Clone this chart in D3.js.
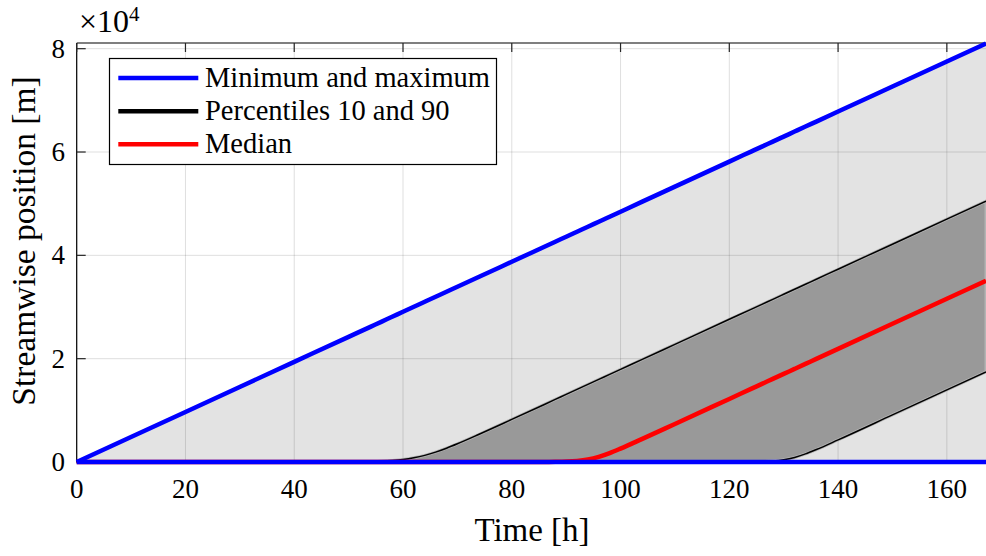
<!DOCTYPE html>
<html>
<head>
<meta charset="utf-8">
<script src="https://cdn.jsdelivr.net/npm/d3@7"></script>
<style>
  html, body { margin: 0; padding: 0; background: #fff; }
  svg { display: block; }
  text { font-family: "Liberation Serif", "Times New Roman", serif; fill: #000; }
</style>
</head>
<body>
<svg id="chart" width="986" height="556"></svg>
<script>
// Time axis (hours) shared by every series
const time = [0, 20, 40, 50, 54, 56, 58, 60, 62, 64, 66, 68, 70, 74, 80, 86, 88, 90, 92, 94, 96, 98, 100, 104, 110, 120, 124, 126, 128, 130, 132, 134, 136, 140, 150, 160, 167.2];

// Streamwise positions [m]
const minPos = time.map(() => 0);
const maxPos = [0, 9690, 19380, 24225, 26160, 27130, 28100, 29070, 30040, 31010, 31980, 32950, 33915, 35850, 38760, 41670, 42640, 43605, 44575, 45545, 46510, 47480, 48450, 50390, 53295, 58140, 60080, 61050, 62015, 62985, 63955, 64925, 65890, 67830, 72675, 77520, 81010];
const p90Pos = [0, 0, 0, 30, 95, 160, 280, 480, 810, 1280, 1910, 2670, 3520, 5365, 8240, 11140, 12110, 13080, 14050, 15020, 15990, 16960, 17930, 19860, 22770, 27620, 29550, 30520, 31490, 32460, 33430, 34400, 35370, 37310, 42150, 47000, 50480];
const medianPos = [0, 0, 0, 0, 0, 0, 0, 0, 0, 0, 0, 0, 0, 0, 2, 12, 32, 84, 214, 497, 1005, 1727, 2590, 4470, 7364, 12209, 14147, 15116, 16085, 17054, 18023, 18992, 19961, 21899, 26744, 31589, 35078];
const p10Pos = [0, 0, 0, 0, 0, 0, 0, 0, 0, 0, 0, 0, 0, 0, 0, 0, 0, 0, 0, 0, 0, 0, 0, 0, 0, 5, 26, 69, 178, 424, 885, 1570, 2410, 4275, 9109, 13953, 17442];

const xTicks = [0, 20, 40, 60, 80, 100, 120, 140, 160];
const yTicks = [0, 20000, 40000, 60000, 80000];
const yTickLabels = ["0", "2", "4", "6", "8"];

const legendItems = [
  { label: "Minimum and maximum", color: "#0000ff" },
  { label: "Percentiles 10 and 90", color: "#000000" },
  { label: "Median", color: "#ff0000" }
];

const svg = d3.select("#chart");
const plotLeft = 76.7, plotRight = 986, plotTop = 43, plotBottom = 462;

const x = d3.scaleLinear().domain([0, 167.2]).range([plotLeft, plotRight]);
const y = d3.scaleLinear().domain([0, 81100]).range([plotBottom, plotTop]);

const rows = time.map((t, i) => ({
  t, min: minPos[i], max: maxPos[i], p10: p10Pos[i], p90: p90Pos[i], med: medianPos[i]
}));

// Grid
const grid = svg.append("g");
grid.selectAll("line.gx").data(xTicks).join("line")
  .attr("x1", d => x(d)).attr("x2", d => x(d))
  .attr("y1", plotTop).attr("y2", plotBottom)
  .attr("stroke", "rgba(38,38,38,0.15)").attr("stroke-width", 1);
grid.selectAll("line.gy").data(yTicks).join("line")
  .attr("y1", d => y(d)).attr("y2", d => y(d))
  .attr("x1", plotLeft).attr("x2", plotRight)
  .attr("stroke", "rgba(38,38,38,0.15)").attr("stroke-width", 1);

const curve = d3.curveMonotoneX;

// Envelope between minimum and maximum
svg.append("path").datum(rows)
  .attr("d", d3.area().x(d => x(d.t)).y0(d => y(d.min)).y1(d => y(d.max)).curve(curve))
  .attr("fill", "rgba(0,0,0,0.11)");

// Band between the 10th and 90th percentiles
svg.append("path").datum(rows)
  .attr("d", d3.area().x(d => x(d.t)).y0(d => y(d.p10)).y1(d => y(d.p90)).curve(curve))
  .attr("fill", "#999999")
  .attr("stroke", "#b4b4b4").attr("stroke-width", 3);

const line = key => d3.line().x(d => x(d.t)).y(d => y(d[key])).curve(curve);

// Axes box (left, top, bottom)
svg.append("line").attr("x1", plotLeft).attr("x2", plotLeft).attr("y1", plotTop).attr("y2", plotBottom)
  .attr("stroke", "#000").attr("stroke-width", 1.2);
svg.append("line").attr("x1", plotLeft).attr("x2", plotRight).attr("y1", plotTop).attr("y2", plotTop)
  .attr("stroke", "#000").attr("stroke-width", 1.2);
svg.append("line").attr("x1", plotLeft).attr("x2", plotRight).attr("y1", plotBottom).attr("y2", plotBottom)
  .attr("stroke", "#000").attr("stroke-width", 1.2);

// Inward ticks
svg.selectAll("line.ty").data(yTicks).join("line")
  .attr("x1", plotLeft).attr("x2", plotLeft + 9)
  .attr("y1", d => y(d)).attr("y2", d => y(d))
  .attr("stroke", "#262626").attr("stroke-width", 1.2);
svg.selectAll("line.tt").data(xTicks).join("line")
  .attr("x1", d => x(d)).attr("x2", d => x(d))
  .attr("y1", plotTop).attr("y2", plotTop + 9)
  .attr("stroke", "#262626").attr("stroke-width", 1.2);

// Series lines
svg.append("path").datum(rows).attr("d", line("p90"))
  .attr("fill", "none").attr("stroke", "#000").attr("stroke-width", 1.5);
svg.append("path").datum(rows).attr("d", line("p10"))
  .attr("fill", "none").attr("stroke", "#000").attr("stroke-width", 1.5);
svg.append("path").datum(rows).attr("d", line("med"))
  .attr("fill", "none").attr("stroke", "#ff0000").attr("stroke-width", 4.5);
svg.append("path").datum(rows).attr("d", line("max"))
  .attr("fill", "none").attr("stroke", "#0000ff").attr("stroke-width", 4.5);
svg.append("path").datum(rows).attr("d", line("min"))
  .attr("fill", "none").attr("stroke", "#0000ff").attr("stroke-width", 4.5);

// Tick labels
svg.selectAll("text.xl").data(xTicks).join("text")
  .attr("x", d => x(d)).attr("y", 498)
  .attr("text-anchor", "middle").attr("font-size", 27)
  .text(d => d);
svg.selectAll("text.yl").data(yTicks).join("text")
  .attr("x", 65).attr("y", d => y(d) + 9)
  .attr("text-anchor", "end").attr("font-size", 27)
  .text((d, i) => yTickLabels[i]);

// Exponent label
const ex = svg.append("text").attr("x", 79).attr("y", 32).attr("font-size", 32);
ex.append("tspan").text("\u00d710");
ex.append("tspan").attr("dy", -11).attr("font-size", 21).text("4");

// Axis titles
svg.append("text").attr("x", 532).attr("y", 541)
  .attr("text-anchor", "middle").attr("font-size", 33).text("Time [h]");
svg.append("text").attr("transform", "translate(35,241) rotate(-90)")
  .attr("text-anchor", "middle").attr("font-size", 33.5).text("Streamwise position [m]");

// Legend
const lg = svg.append("g");
lg.append("rect").attr("x", 109.5).attr("y", 58.5).attr("width", 387).attr("height", 106)
  .attr("fill", "#fff").attr("stroke", "#000").attr("stroke-width", 1.2);
const ly = d3.scalePoint().domain(legendItems.map(d => d.label)).range([78, 144.3]);
lg.selectAll("line.li").data(legendItems).join("line")
  .attr("x1", 118.3).attr("x2", 198.3)
  .attr("y1", d => ly(d.label)).attr("y2", d => ly(d.label))
  .attr("stroke", d => d.color).attr("stroke-width", 4.5);
lg.selectAll("text.lt").data(legendItems).join("text")
  .attr("x", 205).attr("y", d => ly(d.label) + 9)
  .attr("font-size", 28.5).text(d => d.label);
</script>
</body>
</html>
